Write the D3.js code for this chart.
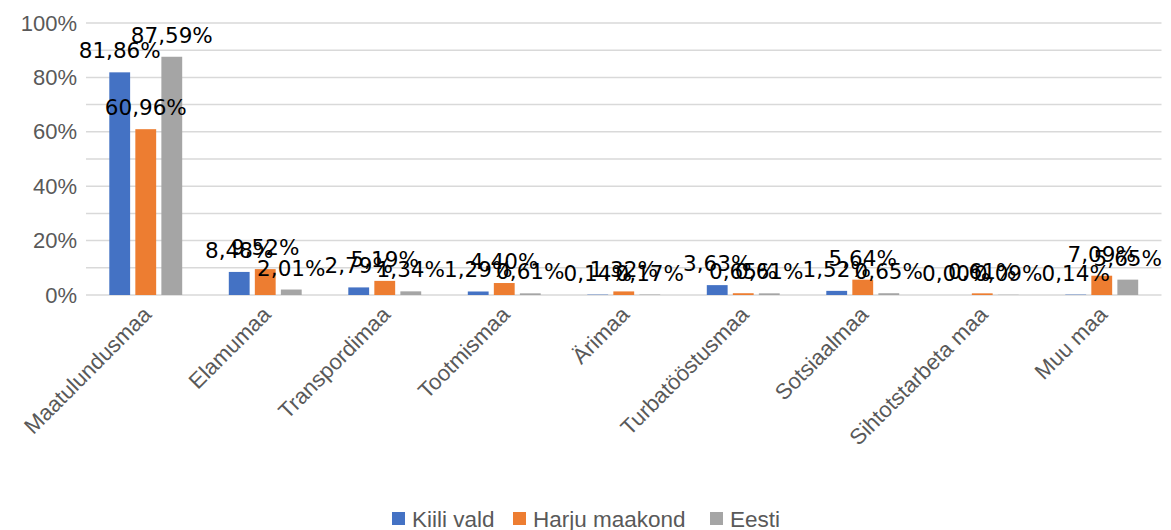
<!DOCTYPE html>
<html>
<head>
  <meta charset="utf-8">
  <style>
    body { margin: 0; padding: 0; background: white; }
    .tick text { font-family: "Liberation Sans", Arial, sans-serif; }
  </style>
</head>
<body>
  <div id="chart"></div>
  <script src="https://d3js.org/d3.v7.min.js"></script>
  <script>
  // chart data
  var categories = ["Maatulundusmaa", "Elamumaa", "Transpordimaa", "Tootmismaa", "Ärimaa",
                    "Turbatööstusmaa", "Sotsiaalmaa", "Sihtotstarbeta maa", "Muu maa"]
  var seriesNames = ["Kiili vald", "Harju maakond", "Eesti"]
  var kiiliVald = [81.86, 8.48, 2.79, 1.29, 0.14, 3.63, 1.52, 0.00, 0.14]
  var harjuMaakond = [60.96, 9.52, 5.19, 4.40, 1.32, 0.65, 5.64, 0.61, 7.09]
  var eesti = [87.59, 2.01, 1.34, 0.61, 0.17, 0.61, 0.65, 0.09, 5.65]
  var yTicks = [0, 20, 40, 60, 80, 100]
  var gridValues = [0, 10, 20, 30, 40, 50, 60, 70, 80, 90, 100]

  var colors = ["#4472c4", "#ed7d31", "#a5a5a5"]
  var allSeries = [kiiliVald, harjuMaakond, eesti]

  var width = 1171,
      height = 530,
      margin = {top: 23, right: 10, bottom: 235, left: 86}

  var svg = d3.select("#chart").append("svg")
      .attr("width", width)
      .attr("height", height)

  var x = d3.scaleBand()
      .domain(categories)
      .range([margin.left, margin.left + 9 * 119.5])
      .paddingInner(0.39)
      .paddingOuter(0.195)

  var x1 = d3.scaleBand()
      .domain(seriesNames)
      .range([0, x.bandwidth()])
      .paddingInner(0.2)

  var y = d3.scaleLinear()
      .domain([0, 100])
      .range([height - margin.bottom, margin.top])

  // gridlines every 10%
  svg.append("g")
    .selectAll("line")
    .data(gridValues)
    .enter().append("line")
    .attr("x1", margin.left)
    .attr("x2", margin.left + 9 * 119.5)
    .attr("y1", function (d) { return y(d) })
    .attr("y2", function (d) { return y(d) })
    .attr("stroke", "#d9d9d9")
    .attr("stroke-width", 1.5)

  // y axis labels
  var yAxis = svg.append("g")
    .attr("transform", "translate(" + margin.left + ",0)")
    .call(d3.axisLeft(y).tickValues(yTicks).tickSize(0).tickPadding(9)
      .tickFormat(function (d) { return d + "%" }))
  yAxis.select(".domain").remove()
  yAxis.selectAll("text")
    .attr("fill", "#595959")
    .style("font-size", "22px")

  // bars
  var groups = svg.append("g")
    .selectAll("g")
    .data(categories)
    .enter().append("g")
    .attr("transform", function (d) { return "translate(" + x(d) + ",0)" })

  groups.selectAll("rect")
    .data(function (d, i) {
      return seriesNames.map(function (s, j) { return {series: s, idx: j, value: allSeries[j][i]} })
    })
    .enter().append("rect")
    .attr("x", function (d) { return x1(d.series) })
    .attr("y", function (d) { return y(d.value) })
    .attr("width", x1.bandwidth())
    .attr("height", function (d) { return y(0) - y(d.value) })
    .attr("fill", function (d) { return colors[d.idx] })

  // data labels
  groups.selectAll("text")
    .data(function (d, i) {
      return seriesNames.map(function (s, j) { return {series: s, value: allSeries[j][i]} })
    })
    .enter().append("text")
    .attr("x", function (d) { return x1(d.series) + x1.bandwidth() / 2 })
    .attr("y", function (d) { return y(d.value) - 14 })
    .attr("text-anchor", "middle")
    .style("font-family", "'DejaVu Sans', sans-serif")
    .style("font-size", "21.5px")
    .attr("fill", "#000")
    .text(function (d) { return d.value.toFixed(2).replace(".", ",") + "%" })

  // x axis category labels, rotated
  svg.append("g")
    .selectAll("text")
    .data(categories)
    .enter().append("text")
    .attr("transform", function (d) {
      return "translate(" + (x(d) + x.bandwidth() / 2 - 4) + "," + (y(0) + 10) + ") rotate(-45)"
    })
    .attr("text-anchor", "end")
    .attr("dy", "0.7em")
    .style("font-family", "'Liberation Sans', Arial, sans-serif")
    .style("font-size", "22px")
    .attr("fill", "#595959")
    .text(function (d) { return d })

  // legend
  var legendX = [392, 513, 710]
  var legend = svg.append("g")
    .selectAll("g")
    .data(seriesNames)
    .enter().append("g")
    .attr("transform", function (d, i) { return "translate(" + legendX[i] + ",512)" })

  legend.append("rect")
    .attr("width", 13)
    .attr("height", 13)
    .attr("fill", function (d, i) { return colors[i] })

  legend.append("text")
    .attr("x", 20)
    .attr("y", 15)
    .style("font-family", "'Liberation Sans', Arial, sans-serif")
    .style("font-size", "22.5px")
    .attr("fill", "#595959")
    .text(function (d) { return d })
  </script>
</body>
</html>
